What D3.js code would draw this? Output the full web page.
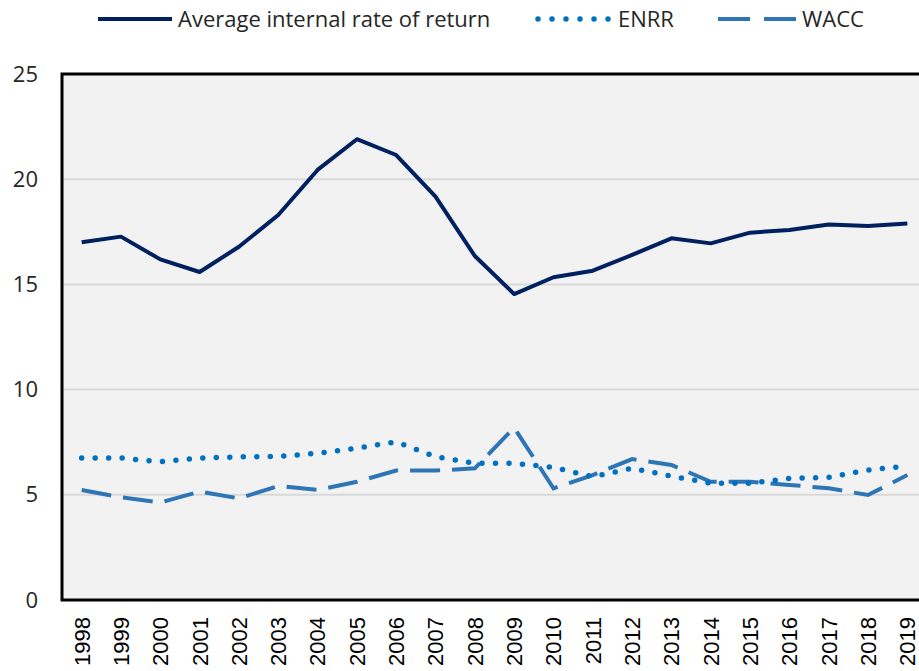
<!DOCTYPE html>
<html>
<head>
<meta charset="utf-8">
<script src="https://cdn.jsdelivr.net/npm/d3@7"></script>
<style>
  body { margin: 0; background: #fff; }
  svg { display: block; }
</style>
</head>
<body>
<script>
let years = ['1998','1999','2000','2001','2002','2003','2004','2005','2006','2007','2008',
             '2009','2010','2011','2012','2013','2014','2015','2016','2017','2018','2019'];
let irr  = [17.0, 17.27, 16.19, 15.59, 16.79, 18.3, 20.44, 21.9, 21.15, 19.17, 16.35,
            14.54, 15.34, 15.65, 16.4, 17.19, 16.95, 17.46, 17.59, 17.85, 17.78, 17.9];
let enrr = [6.75, 6.75, 6.57, 6.75, 6.8, 6.83, 6.97, 7.21, 7.52, 6.81, 6.5,
            6.5, 6.3, 5.86, 6.26, 5.89, 5.55, 5.55, 5.78, 5.83, 6.18, 6.36];
let wacc = [5.23, 4.88, 4.63, 5.15, 4.83, 5.42, 5.23, 5.62, 6.15, 6.15, 6.26,
            8.19, 5.31, 5.94, 6.7, 6.42, 5.62, 5.62, 5.47, 5.31, 4.99, 5.94];
let yTicks = [0, 5, 10, 15, 20, 25];
let seriesNames = ['Average internal rate of return', 'ENRR', 'WACC'];

let width = 919, height = 671;
let margin = { top: 74, right: -8, bottom: 71, left: 62 };

let svg = d3.select('body').append('svg').attr('width', width).attr('height', height);

let x = d3.scaleBand()
  .domain(years)
  .range([margin.left, width - margin.right])
  .padding(0);

let y = d3.scaleLinear()
  .domain([0, 25])
  .range([height - margin.bottom, margin.top]);

// plot background
svg.append('rect')
  .attr('x', margin.left).attr('y', margin.top)
  .attr('width', width - margin.right - margin.left)
  .attr('height', y(0) - y(25))
  .attr('fill', '#f2f2f2');

// gridlines
svg.append('g')
  .selectAll('line')
  .data(yTicks.filter(d => d > 0 && d < 25))
  .enter()
  .append('line')
  .attr('x1', margin.left).attr('x2', width - margin.right)
  .attr('y1', d => y(d)).attr('y2', d => y(d))
  .attr('stroke', '#d9d9d9').attr('stroke-width', 2);

// y axis labels
let yAxis = g => g
  .attr('transform', `translate(${margin.left},0)`)
  .call(d3.axisLeft(y).tickValues(yTicks).tickSize(0).tickPadding(24))
  .call(g => g.select('.domain').remove())
  .call(g => g.selectAll('text')
    .attr('font-family', "'Open Sans', sans-serif")
    .attr('font-size', 22)
    .attr('fill', '#262626'));
svg.append('g').call(yAxis);

// x axis labels, rotated
let xAxis = g => g
  .attr('transform', `translate(0,${y(0)})`)
  .call(d3.axisBottom(x).tickSize(0))
  .call(g => g.select('.domain').remove())
  .call(g => g.selectAll('text')
    .attr('font-family', "'Liberation Sans', Arial, sans-serif")
    .attr('font-size', 22)
    .attr('fill', '#000')
    .attr('text-anchor', 'end')
    .attr('dy', '0.36em')
    .attr('transform', 'translate(0,17) rotate(-90)')
    .attr('x', 0).attr('y', 0));
svg.append('g').call(xAxis);

// frame: left, top, bottom
svg.append('path')
  .attr('d', `M${width - margin.right},${margin.top}H${margin.left}V${y(0)}H${width - margin.right}`)
  .attr('fill', 'none')
  .attr('stroke', '#000')
  .attr('stroke-width', 3);

let line = d3.line()
  .x((d, i) => x(years[i]) + x.bandwidth() / 2)
  .y(d => y(d));

// WACC dashed
svg.append('path')
  .datum(wacc)
  .attr('d', line)
  .attr('fill', 'none')
  .attr('stroke', '#2e75b6')
  .attr('stroke-width', 4)
  .attr('stroke-dasharray', '30,12');

// ENRR dotted
svg.append('path')
  .datum(enrr)
  .attr('d', line)
  .attr('fill', 'none')
  .attr('stroke', '#0070c0')
  .attr('stroke-width', 5.5)
  .attr('stroke-linecap', 'round')
  .attr('stroke-dasharray', '0,13.5');

// average IRR solid
svg.append('path')
  .datum(irr)
  .attr('d', line)
  .attr('fill', 'none')
  .attr('stroke', '#002060')
  .attr('stroke-width', 4)
  .attr('stroke-linejoin', 'round');

// legend
let legendY = 19;
let legend = [
  { name: seriesNames[0], x1: 98, x2: 172, color: '#002060', dash: null, w: 4, cap: 'butt' },
  { name: seriesNames[1], x1: 538, x2: 610, color: '#0070c0', dash: '0,14', w: 5.5, cap: 'round' },
  { name: seriesNames[2], x1: 718, x2: 796, color: '#2e75b6', dash: '32,14', w: 4, cap: 'butt' }
];
let lg = svg.append('g').selectAll('g').data(legend).enter().append('g');
lg.append('line')
  .attr('x1', d => d.x1).attr('x2', d => d.x2)
  .attr('y1', legendY).attr('y2', legendY)
  .attr('stroke', d => d.color)
  .attr('stroke-width', d => d.w)
  .attr('stroke-linecap', d => d.cap)
  .attr('stroke-dasharray', d => d.dash);
lg.append('text')
  .attr('x', d => d.x2 + (d.cap === 'round' ? 8 : 6))
  .attr('y', legendY)
  .attr('dy', '0.35em')
  .attr('font-family', "'Open Sans', sans-serif")
  .attr('font-size', 22)
  .attr('fill', '#262626')
  .text(d => d.name);
</script>
</body>
</html>
